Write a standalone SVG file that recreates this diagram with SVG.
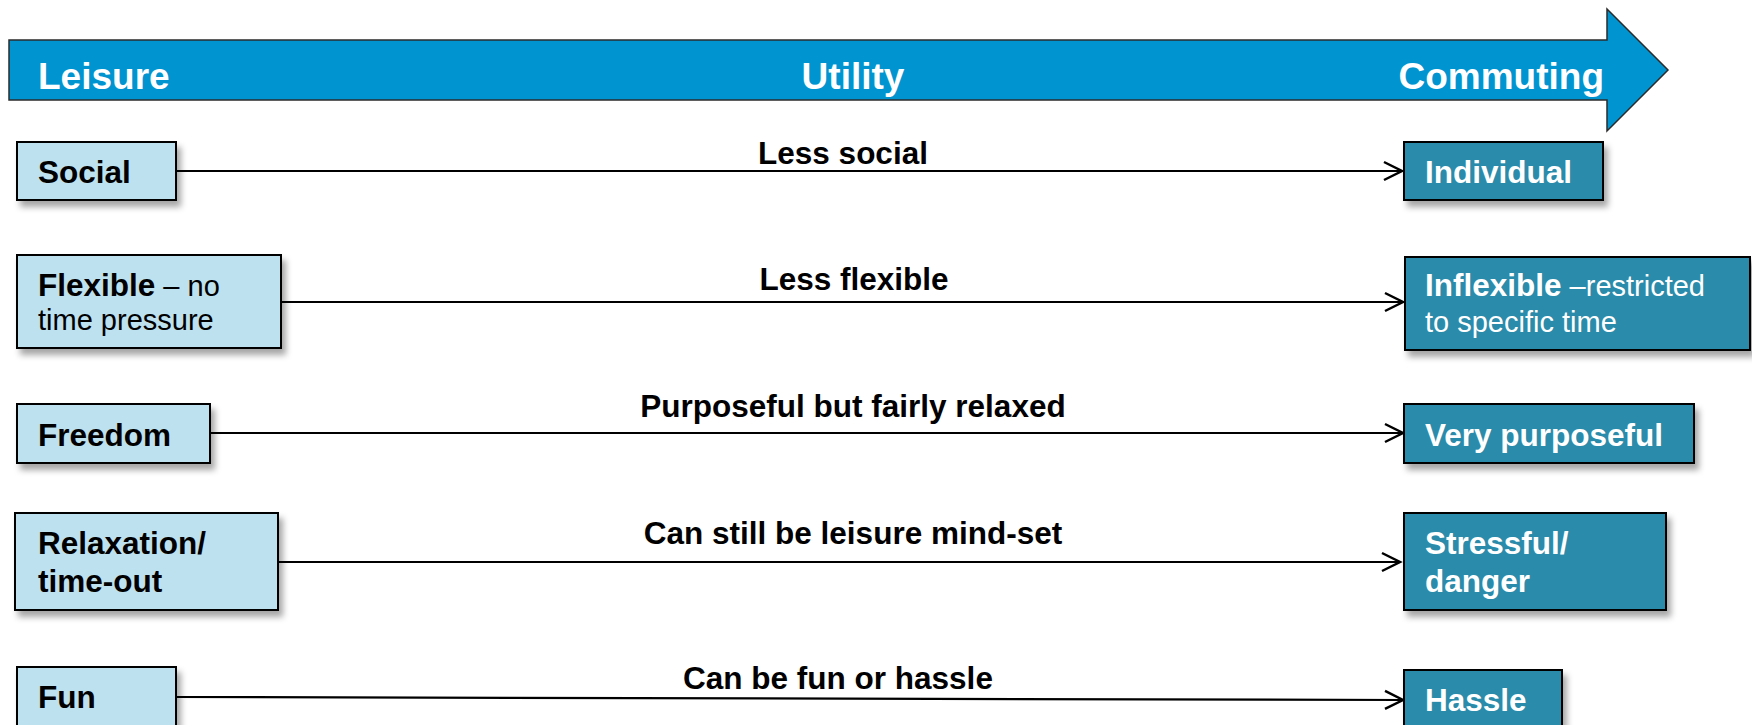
<svg xmlns="http://www.w3.org/2000/svg" width="1752" height="725" viewBox="0 0 1752 725">
<defs>
<filter id="sh" x="-10%" y="-20%" width="125%" height="160%">
<feDropShadow dx="4" dy="6" stdDeviation="3" flood-color="#000" flood-opacity="0.35"/>
</filter>
<marker id="arr" markerUnits="userSpaceOnUse" markerWidth="22" markerHeight="22" refX="19" refY="10" orient="auto" viewBox="0 0 22 20">
<path d="M1,1 L19,10 L1,19" fill="none" stroke="#000" stroke-width="2.5"/>
</marker>
<style>
.lb{fill:#BDE1EF;stroke:#000;stroke-width:2;filter:url(#sh)}
.rb{fill:#2A8BAA;stroke:#000;stroke-width:2;filter:url(#sh)}
text{font-family:"Liberation Sans",Arial,sans-serif}
.b{font-weight:bold;font-size:31.5px}
.n{font-weight:normal;font-size:29px}
.dk{fill:#000}
.wh{fill:#fff}
.hd{font-weight:bold;font-size:37px;fill:#fff}
.lab{font-weight:bold;font-size:31.5px;fill:#000;text-anchor:middle}
.con{stroke:#000;stroke-width:2.2;fill:none;marker-end:url(#arr)}
</style>
</defs>
<rect width="1752" height="725" fill="#fff"/>
<g id="banner">
<path d="M9,40 L1607,40 L1607,9 L1668,70 L1607,131 L1607,100 L9,100 Z" fill="#0094D0" stroke="#2b2b2b" stroke-width="1.5"/>
<text class="hd" x="38" y="89">Leisure</text>
<text class="hd" x="853" y="89" text-anchor="middle">Utility</text>
<text class="hd" x="1604" y="89" text-anchor="end">Commuting</text>
</g>
<g id="connectors">
<line class="con" x1="176" y1="171" x2="1402" y2="171"/>
<line class="con" x1="281" y1="302" x2="1403" y2="302"/>
<line class="con" x1="210" y1="433" x2="1403" y2="433"/>
<line class="con" x1="278" y1="562" x2="1400" y2="562"/>
<line class="con" x1="176" y1="697" x2="1403" y2="700"/>
<text class="lab" x="843" y="164">Less social</text>
<text class="lab" x="854" y="290">Less flexible</text>
<text class="lab" x="853" y="417">Purposeful but fairly relaxed</text>
<text class="lab" x="853" y="544">Can still be leisure mind-set</text>
<text class="lab" x="838" y="689">Can be fun or hassle</text>
</g>
<g id="social">
<rect class="lb" x="17" y="142" width="159" height="58"/>
<text class="b dk" x="38" y="183">Social</text>
</g>
<g id="flexible">
<rect class="lb" x="17" y="255" width="264" height="93"/>
<text class="dk" x="38" y="296"><tspan class="b">Flexible</tspan><tspan class="n"> – no</tspan></text>
<text class="n dk" x="38" y="330">time pressure</text>
</g>
<g id="freedom">
<rect class="lb" x="17" y="404" width="193" height="59"/>
<text class="b dk" x="38" y="446">Freedom</text>
</g>
<g id="relaxation">
<rect class="lb" x="15" y="513" width="263" height="97"/>
<text class="b dk" x="38" y="554">Relaxation/</text>
<text class="b dk" x="38" y="592">time-out</text>
</g>
<g id="fun">
<rect class="lb" x="17" y="667" width="159" height="70"/>
<text class="b dk" x="38" y="708">Fun</text>
</g>
<g id="individual">
<rect class="rb" x="1404" y="142" width="199" height="58"/>
<text class="b wh" x="1425" y="183">Individual</text>
</g>
<g id="inflexible">
<rect class="rb" x="1405" y="257" width="345" height="93"/>
<text class="wh" x="1425" y="296"><tspan class="b">Inflexible</tspan><tspan class="n"> –restricted</tspan></text>
<text class="n wh" x="1425" y="332">to specific time</text>
</g>
<g id="purposeful">
<rect class="rb" x="1404" y="404" width="290" height="59"/>
<text class="b wh" x="1425" y="446">Very purposeful</text>
</g>
<g id="stressful">
<rect class="rb" x="1404" y="513" width="262" height="97"/>
<text class="b wh" x="1425" y="554">Stressful/</text>
<text class="b wh" x="1425" y="592">danger</text>
</g>
<g id="hassle">
<rect class="rb" x="1404" y="670" width="158" height="70"/>
<text class="b wh" x="1425" y="711">Hassle</text>
</g>
</svg>
